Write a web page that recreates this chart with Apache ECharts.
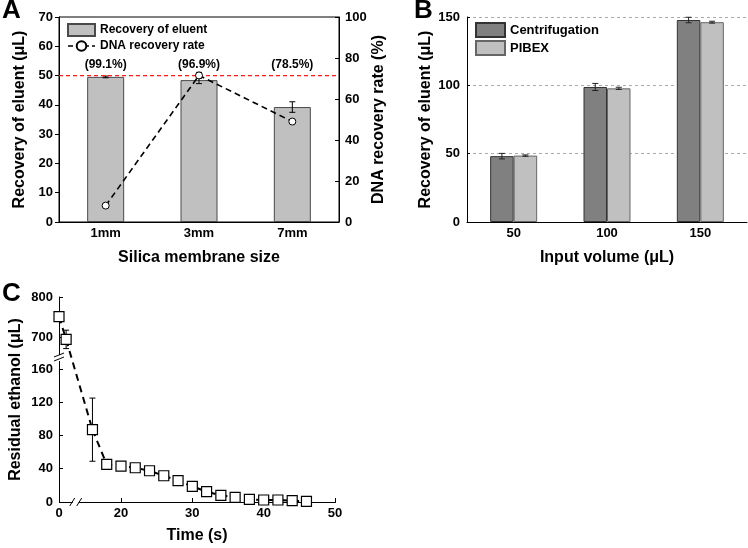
<!DOCTYPE html>
<html><head><meta charset="utf-8">
<script src="https://cdn.jsdelivr.net/npm/echarts@6/dist/echarts.min.js"></script>
<style>html,body{margin:0;padding:0;background:#fff}#c{width:748px;height:548px}</style>
</head><body><div id="c"></div>
<script>
// ---------- Panel A ----------
const membraneSizes = ['1mm', '3mm', '7mm'];
const eluentRecovery = [49.55, 48.45, 39.25];
const eluentErr = [0.3, 1.2, 1.8];
const dnaRecovery = [8, 71.5, 49];
const dnaErr = [0.6, 1.5, 0.6];
const eluentPctLabels = ['(99.1%)', '(96.9%)', '(78.5%)'];
const elutionVolume = 50;
const pctLabelLevel = 53.6;

// ---------- Panel B ----------
const inputVolumes = ['50', '100', '150'];
const centrifugation = [48.2, 98.8, 147.8];
const centrifugationErr = [2, 2.6, 2];
const pibex = [48.6, 97.8, 146.2];
const pibexErr = [0.5, 0.8, 0.7];

// ---------- Panel C ----------
const timesUpper = [0, 1];
const ethanolUpper = [751, 694];
const ethanolUpperErr = [0, 23];
const timesLower = [16, 18, 20, 22, 24, 26, 28, 30, 32, 34, 36, 38, 40, 42, 44, 46];
const ethanolLower = [87, 45.2, 43.2, 41.2, 37.6, 31.6, 25.6, 18.8, 12.4, 8, 5.6, 3.2, 2.4, 2.4, 1.6, 0.8];
const ethanolLowerErr = [38, 1.5, 1, 1, 1, 1, 1, 1, 1, 1, 1, 0.5, 0.5, 0.5, 0.5, 0.3];
const timeBreak = [2, 14];
const xTickLabels = [0, 20, 30, 40, 50];
const xTicks = [20, 30, 40, 50];
const yUpperLabels = [700, 800];
const yLowerLabels = [0, 40, 80, 120, 160];

const FONT = "'Liberation Sans', Arial, sans-serif";
const lab = (size) => ({ color: '#000', fontSize: size, fontWeight: 'bold', fontFamily: FONT });
const axLine = { show: true, lineStyle: { color: '#000', width: 1 } };

function errRender(offset, cap, color) {
  return function (params, api) {
    const x = api.value(0), lo = api.value(1), hi = api.value(2);
    const p1 = api.coord([x, hi]);
    const p2 = api.coord([x, lo]);
    const cx = p1[0] + offset;
    const st = { stroke: color || '#000', lineWidth: 1 };
    return { type: 'group', children: [
      { type: 'line', shape: { x1: cx, y1: p1[1], x2: cx, y2: p2[1] }, style: st },
      { type: 'line', shape: { x1: cx - cap, y1: p1[1], x2: cx + cap, y2: p1[1] }, style: st },
      { type: 'line', shape: { x1: cx - cap, y1: p2[1], x2: cx + cap, y2: p2[1] }, style: st }
    ]};
  };
}
const errData = (xs, vals, errs) => vals.map((v, i) => [xs[i], v - errs[i], v + errs[i]]);
const idx = (arr) => arr.map((_, i) => i);

const barWB = 23.5;
const timeAxisBase = {
  type: 'value', min: 0, max: 50,
  breaks: [{ start: timeBreak[0], end: timeBreak[1], gap: 0.69 }],
  breakArea: { show: false },
  splitLine: { show: false }
};

const chart = echarts.init(document.getElementById('c'), null, { renderer: 'canvas' });
const option = {
  animation: false,
  backgroundColor: '#fff',
  textStyle: { fontFamily: FONT },
  title: [
    { text: 'A', left: 2, top: -2, padding: 0, textStyle: lab(26) },
    { text: 'B', left: 414, top: -2, padding: 0, textStyle: lab(26) },
    { text: 'C', left: 2, top: 281, padding: 0, textStyle: lab(26) }
  ],
  legend: [
    { orient: 'vertical', left: 67, top: 23, itemWidth: 27, itemHeight: 12, itemGap: 3, padding: 0,
      textStyle: lab(12),
      data: [{ name: 'Recovery of eluent', icon: 'rect' },
             { name: 'DNA recovery rate', lineStyle: { color: '#000', width: 1.6, type: [5, 3] } }] },
    { orient: 'vertical', left: 475, top: 22, itemWidth: 29, itemHeight: 14, itemGap: 2, padding: 0,
      textStyle: lab(13),
      data: [{ name: 'Centrifugation', icon: 'rect' }, { name: 'PIBEX', icon: 'rect' }] }
  ],
  grid: [
    { left: 59, top: 17, width: 280, height: 205, show: true, borderColor: '#000', borderWidth: 1, backgroundColor: 'transparent', outerBoundsMode: 'none' },
    { left: 467, top: 17, width: 280, height: 205, outerBoundsMode: 'none' },
    { left: 59, top: 297, width: 276, height: 60, outerBoundsMode: 'none' },
    { left: 59, top: 359, width: 276, height: 143, outerBoundsMode: 'none' }
  ],
  xAxis: [
    { type: 'category', gridIndex: 0, data: membraneSizes, axisLine: axLine, axisTick: { show: false },
      axisLabel: Object.assign({ margin: 5 }, lab(13)),
      name: 'Silica membrane size', nameLocation: 'middle', nameGap: 28, nameTextStyle: lab(16) },
    { type: 'category', gridIndex: 1, data: inputVolumes, axisLine: axLine, axisTick: { show: false },
      axisLabel: Object.assign({ margin: 5 }, lab(13)),
      name: 'Input volume (μL)', nameLocation: 'middle', nameGap: 28, nameTextStyle: lab(16) },
    Object.assign({}, timeAxisBase, { gridIndex: 2, show: false }),
    Object.assign({}, timeAxisBase, { gridIndex: 3, axisLine: axLine,
      axisTick: { show: true, inside: true, length: 4, customValues: xTicks, lineStyle: { color: '#000' } },
      axisLabel: Object.assign({ margin: 5, customValues: xTickLabels }, lab(13)),
      name: 'Time (s)', nameLocation: 'middle', nameGap: 26, nameTextStyle: lab(16) }),
    // helper axis spanning the full width of panel A for the reference line
    { type: 'value', gridIndex: 0, min: 0, max: 1, show: false }
  ],
  yAxis: [
    { type: 'value', gridIndex: 0, min: 0, max: 70, interval: 10, axisLine: axLine,
      axisTick: { show: true, length: 4, lineStyle: { color: '#000' } }, splitLine: { show: false },
      axisLabel: Object.assign({ margin: 6 }, lab(13)),
      name: 'Recovery of eluent (μL)', nameLocation: 'middle', nameRotate: 90, nameGap: 31, nameTextStyle: lab(16) },
    { type: 'value', gridIndex: 0, position: 'right', min: 0, max: 100, interval: 20, axisLine: axLine,
      axisTick: { show: true, inside: true, length: 4, lineStyle: { color: '#000' } }, splitLine: { show: false },
      axisLabel: Object.assign({ margin: 6 }, lab(13)),
      name: 'DNA recovery rate (%)', nameLocation: 'middle', nameRotate: 90, nameGap: 31, nameTextStyle: lab(16) },
    { type: 'value', gridIndex: 1, min: 0, max: 150, interval: 50, axisLine: axLine,
      axisTick: { show: true, inside: true, length: 3, lineStyle: { color: '#000' } },
      splitLine: { show: true, lineStyle: { color: '#aaa', type: [3, 3], width: 1 } },
      axisLabel: Object.assign({ margin: 7 }, lab(13)),
      name: 'Recovery of eluent (μL)', nameLocation: 'middle', nameRotate: 90, nameGap: 33, nameTextStyle: lab(16) },
    { type: 'value', gridIndex: 2, min: 650, max: 800, axisLine: axLine, splitLine: { show: false },
      axisTick: { show: true, inside: true, length: 4, customValues: yUpperLabels, lineStyle: { color: '#000' } },
      axisLabel: Object.assign({ margin: 6, customValues: yUpperLabels }, lab(13)) },
    { type: 'value', gridIndex: 3, min: 0, max: 172, axisLine: axLine, splitLine: { show: false },
      axisTick: { show: true, inside: true, length: 4, customValues: yLowerLabels, lineStyle: { color: '#000' } },
      axisLabel: Object.assign({ margin: 6, customValues: yLowerLabels }, lab(13)) }
  ],
  series: [
    // Panel A
    { name: 'Recovery of eluent', type: 'bar', xAxisIndex: 0, yAxisIndex: 0, data: eluentRecovery, barWidth: 37,
      itemStyle: { color: '#c0c0c0', borderColor: '#4a4a4a', borderWidth: 1 }, z: 2 },
    { type: 'line', xAxisIndex: 4, yAxisIndex: 0, data: [[0, elutionVolume], [1, elutionVolume]],
      symbol: 'none', silent: true, z: 5, color: '#ff1a1a',
      lineStyle: { color: '#ff1a1a', type: [4, 3], width: 1.3 } },
    { type: 'custom', xAxisIndex: 0, yAxisIndex: 0, renderItem: errRender(0, 3),
      data: errData(idx(membraneSizes), eluentRecovery, eluentErr), z: 3 },
    { type: 'scatter', xAxisIndex: 0, yAxisIndex: 0, symbolSize: 1, itemStyle: { color: 'rgba(0,0,0,0)', opacity: 1 },
      data: membraneSizes.map((_, i) => [i, pctLabelLevel]), silent: true, z: 8,
      label: { show: true, position: 'inside', opacity: 1, formatter: (p) => eluentPctLabels[p.dataIndex], color: '#000', fontSize: 12, fontWeight: 'bold', fontFamily: FONT } },
    { type: 'custom', xAxisIndex: 0, yAxisIndex: 1, renderItem: errRender(0, 3),
      data: errData(idx(membraneSizes), dnaRecovery, dnaErr), z: 6 },
    { name: 'DNA recovery rate', type: 'line', xAxisIndex: 0, yAxisIndex: 1, data: dnaRecovery,
      symbol: 'circle', symbolSize: 7, z: 7,
      lineStyle: { color: '#000', width: 1.6, type: [6, 4] },
      itemStyle: { color: '#fff', borderColor: '#000', borderWidth: 1 } },
    // Panel B
    { name: 'Centrifugation', type: 'bar', xAxisIndex: 1, yAxisIndex: 2, data: centrifugation, barWidth: barWB, barGap: '0%',
      itemStyle: { color: '#808080', borderColor: '#333', borderWidth: 1 } },
    { name: 'PIBEX', type: 'bar', xAxisIndex: 1, yAxisIndex: 2, data: pibex, barWidth: barWB, barGap: '0%',
      itemStyle: { color: '#c0c0c0', borderColor: '#666', borderWidth: 1 } },
    { type: 'custom', xAxisIndex: 1, yAxisIndex: 2, renderItem: errRender(-barWB / 2, 3, '#222'),
      data: errData(idx(inputVolumes), centrifugation, centrifugationErr), z: 5 },
    { type: 'custom', xAxisIndex: 1, yAxisIndex: 2, renderItem: errRender(barWB / 2, 3, '#222'),
      data: errData(idx(inputVolumes), pibex, pibexErr), z: 5 },
    // Panel C
    { type: 'custom', xAxisIndex: 2, yAxisIndex: 3, renderItem: errRender(0, 3),
      data: errData(timesUpper, ethanolUpper, ethanolUpperErr), z: 3 },
    { type: 'line', xAxisIndex: 2, yAxisIndex: 3, data: timesUpper.map((t, i) => [t, ethanolUpper[i]]),
      symbol: 'rect', symbolSize: 10, z: 4,
      lineStyle: { color: '#000', width: 2, type: [7, 5] },
      itemStyle: { color: '#fff', borderColor: '#000', borderWidth: 1.2 } },
    { type: 'custom', xAxisIndex: 3, yAxisIndex: 4, renderItem: errRender(0, 3),
      data: errData(timesLower, ethanolLower, ethanolLowerErr), z: 3 },
    { type: 'line', xAxisIndex: 3, yAxisIndex: 4, data: timesLower.map((t, i) => [t, ethanolLower[i]]),
      symbol: 'rect', symbolSize: 10, z: 4,
      lineStyle: { color: '#000', width: 2, type: [7, 5] },
      itemStyle: { color: '#fff', borderColor: '#000', borderWidth: 1.2 } }
  ]
};
chart.setOption(option);

// decorations derived from the library's own scales
const px = (f, v) => chart.convertToPixel(f, v);
const xb0 = px({ xAxisIndex: 3 }, timeBreak[0]);
const xb1 = px({ xAxisIndex: 3 }, timeBreak[1]);
const yAxisBottom = px({ yAxisIndex: 4 }, 0);
const xOrigin = px({ xAxisIndex: 3 }, 0);
const yUpBottom = px({ yAxisIndex: 3 }, 650);
const yLowTop = px({ yAxisIndex: 4 }, 172);
const xmid = (xb0 + xb1) / 2;
const ymid = (yUpBottom + yLowTop) / 2;
const from = px({ xAxisIndex: 2, yAxisIndex: 3 }, [timesUpper[1], ethanolUpper[1]]);
const to = px({ xAxisIndex: 3, yAxisIndex: 4 }, [timesLower[0], ethanolLower[0]]);
const ls = { stroke: '#000', lineWidth: 1 };
chart.setOption({
  graphic: [
    { type: 'text', x: 16, y: (px({ yAxisIndex: 3 }, 800) + yAxisBottom) / 2, rotation: Math.PI / 2,
      style: { text: 'Residual ethanol (μL)', fontSize: 16, fontWeight: 'bold', fontFamily: FONT, fill: '#000', align: 'center', verticalAlign: 'middle' } },
    { type: 'line', z: 1, shape: { x1: from[0], y1: from[1], x2: to[0], y2: to[1] },
      style: { stroke: '#000', lineWidth: 2, lineDash: [7, 5] } },
    // x-axis break marks
    { type: 'rect', z: 10, shape: { x: xmid - 3, y: yAxisBottom - 2, width: 6, height: 4 }, style: { fill: '#fff' } },
    { type: 'line', z: 11, shape: { x1: xmid - 6, y1: yAxisBottom + 4, x2: xmid - 1, y2: yAxisBottom - 4 }, style: ls },
    { type: 'line', z: 11, shape: { x1: xmid + 1, y1: yAxisBottom + 4, x2: xmid + 6, y2: yAxisBottom - 4 }, style: ls },
    // y-axis break marks
    { type: 'rect', z: 10, shape: { x: xOrigin - 2, y: ymid - 3, width: 4, height: 6 }, style: { fill: '#fff' } },
    { type: 'line', z: 11, shape: { x1: xOrigin - 5, y1: ymid - 1, x2: xOrigin + 5, y2: ymid - 5 }, style: ls },
    { type: 'line', z: 11, shape: { x1: xOrigin - 5, y1: ymid + 3, x2: xOrigin + 5, y2: ymid - 1 }, style: ls }
  ]
});
</script>
</body></html>
